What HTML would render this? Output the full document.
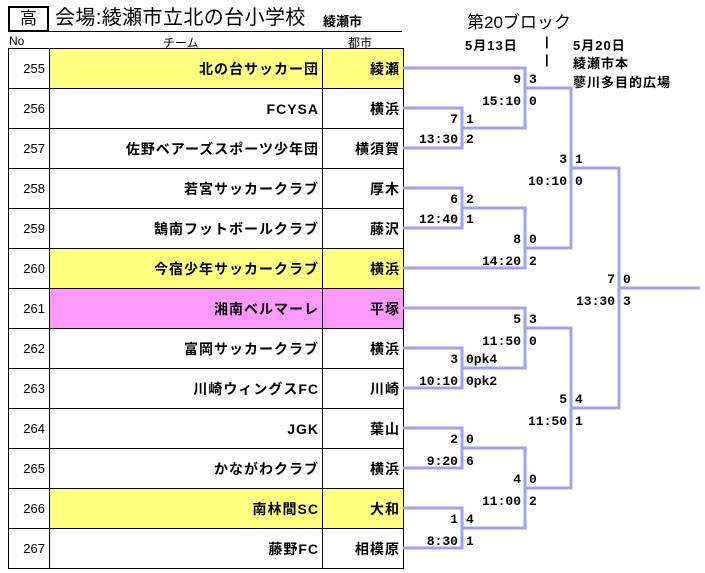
<!DOCTYPE html>
<html><head><meta charset="utf-8"><style>
*{margin:0;padding:0;box-sizing:border-box}
body{width:705px;height:573px;background:#fff;position:relative;overflow:hidden;font-family:"Liberation Sans","Noto Sans CJK JP",sans-serif;color:#000}
.a{position:absolute;white-space:nowrap}
table{position:absolute;left:8px;top:48px;border-collapse:collapse}
td{border:1px solid #000;height:40px;font-size:13px;padding:0 4px;text-align:right}
td.n{width:41px;font-weight:normal}
td.t{width:273px;font-weight:bold;font-size:14px;letter-spacing:1px;padding-right:3px}
td.c{width:81px;font-weight:bold;font-size:14px;letter-spacing:1px;padding-right:3px}
.y td.t,.y td.c{background:#ffff80}
.p td.t,.p td.c{background:#ff99ff}
svg{position:absolute;left:0;top:0}
svg text{font-family:"Liberation Mono","Noto Sans CJK JP",monospace;font-weight:bold;font-size:13px}
</style></head><body>
<div class="a" style="left:8px;top:6px;width:41px;height:26px;border:2px solid #000;font-size:17px;text-align:center;line-height:22px">高</div>
<div class="a" style="left:55px;top:5px;font-size:20px;line-height:26px;letter-spacing:0.4px">会場:綾瀬市立北の台小学校</div>
<div class="a" style="left:323px;top:11px;font-size:13px;font-weight:bold">綾瀬市</div>
<div class="a" style="left:48px;top:31px;width:354px;border-top:1px solid #000"></div>
<div class="a" style="left:9px;top:34px;font-size:12px">No</div>
<div class="a" style="left:163px;top:34px;font-size:12px">チーム</div>
<div class="a" style="left:348px;top:34px;font-size:12px">都市</div>
<div class="a" style="left:467px;top:8px;font-size:17px">第20ブロック</div>
<div class="a" style="left:465px;top:35px;font-size:13px;font-weight:bold;letter-spacing:1px">5月13日</div>
<div class="a" style="left:545px;top:34px;font-size:13px;font-weight:bold">|</div>
<div class="a" style="left:545px;top:52px;font-size:13px;font-weight:bold">|</div>
<div class="a" style="left:573px;top:35px;font-size:13px;font-weight:bold;letter-spacing:1px">5月20日</div>
<div class="a" style="left:573px;top:53px;font-size:13px;font-weight:bold;letter-spacing:1px">綾瀬市本</div>
<div class="a" style="left:573px;top:72px;font-size:13px;font-weight:bold;letter-spacing:1px">蓼川多目的広場</div>
<table>
<tr class="y"><td class="n">255</td><td class="t">北の台サッカー団</td><td class="c">綾瀬</td></tr>
<tr><td class="n">256</td><td class="t">FCYSA</td><td class="c">横浜</td></tr>
<tr><td class="n">257</td><td class="t">佐野ベアーズスポーツ少年団</td><td class="c">横須賀</td></tr>
<tr><td class="n">258</td><td class="t">若宮サッカークラブ</td><td class="c">厚木</td></tr>
<tr><td class="n">259</td><td class="t">鵠南フットボールクラブ</td><td class="c">藤沢</td></tr>
<tr class="y"><td class="n">260</td><td class="t">今宿少年サッカークラブ</td><td class="c">横浜</td></tr>
<tr class="p"><td class="n">261</td><td class="t">湘南ベルマーレ</td><td class="c">平塚</td></tr>
<tr><td class="n">262</td><td class="t">富岡サッカークラブ</td><td class="c">横浜</td></tr>
<tr><td class="n">263</td><td class="t">川崎ウィングスFC</td><td class="c">川崎</td></tr>
<tr><td class="n">264</td><td class="t">JGK</td><td class="c">葉山</td></tr>
<tr><td class="n">265</td><td class="t">かながわクラブ</td><td class="c">横浜</td></tr>
<tr class="y"><td class="n">266</td><td class="t">南林間SC</td><td class="c">大和</td></tr>
<tr><td class="n">267</td><td class="t">藤野FC</td><td class="c">相模原</td></tr>
</table>
<svg width="705" height="573">
<g fill="none" stroke="#a0a0f4" stroke-width="3">
<polyline points="403,68 525,68 525,128 462,128"/>
<polyline points="403,108 462,108 462,148 403,148"/>
<polyline points="525,88 571,88 571,248 525,248"/>
<polyline points="403,188 462,188 462,228 403,228"/>
<polyline points="462,208 525,208 525,268 403,268"/>
<polyline points="571,168 619,168 619,408 571,408"/>
<line x1="619" y1="288" x2="700" y2="288"/>
<polyline points="403,308 525,308 525,368 462,368"/>
<polyline points="403,348 462,348 462,388 403,388"/>
<polyline points="525,328 571,328 571,488 525,488"/>
<polyline points="403,428 462,428 462,468 403,468"/>
<polyline points="462,448 525,448 525,528 462,528"/>
<polyline points="403,508 462,508 462,548 403,548"/>
</g>
<g text-anchor="end">
<text x="521" y="83">9</text><text x="521" y="105">15:10</text>
<text x="458" y="123">7</text><text x="458" y="143">13:30</text>
<text x="567" y="163">3</text><text x="567" y="185">10:10</text>
<text x="458" y="203">6</text><text x="458" y="223">12:40</text>
<text x="521" y="243">8</text><text x="521" y="265">14:20</text>
<text x="615" y="283">7</text><text x="615" y="305">13:30</text>
<text x="521" y="323">5</text><text x="521" y="345">11:50</text>
<text x="458" y="363">3</text><text x="458" y="385">10:10</text>
<text x="567" y="403">5</text><text x="567" y="425">11:50</text>
<text x="458" y="443">2</text><text x="458" y="465">9:20</text>
<text x="521" y="483">4</text><text x="521" y="505">11:00</text>
<text x="458" y="523">1</text><text x="458" y="545">8:30</text>
</g>
<g>
<text x="529" y="83">3</text><text x="529" y="105">0</text>
<text x="466" y="123">1</text><text x="466" y="143">2</text>
<text x="575" y="163">1</text><text x="575" y="185">0</text>
<text x="466" y="203">2</text><text x="466" y="223">1</text>
<text x="529" y="243">0</text><text x="529" y="265">2</text>
<text x="623" y="283">0</text><text x="623" y="305">3</text>
<text x="529" y="323">3</text><text x="529" y="345">0</text>
<text x="466" y="363">0pk4</text><text x="466" y="385">0pk2</text>
<text x="575" y="403">4</text><text x="575" y="425">1</text>
<text x="466" y="443">0</text><text x="466" y="465">6</text>
<text x="529" y="483">0</text><text x="529" y="505">2</text>
<text x="466" y="523">4</text><text x="466" y="545">1</text>
</g>
</svg>
</body></html>
